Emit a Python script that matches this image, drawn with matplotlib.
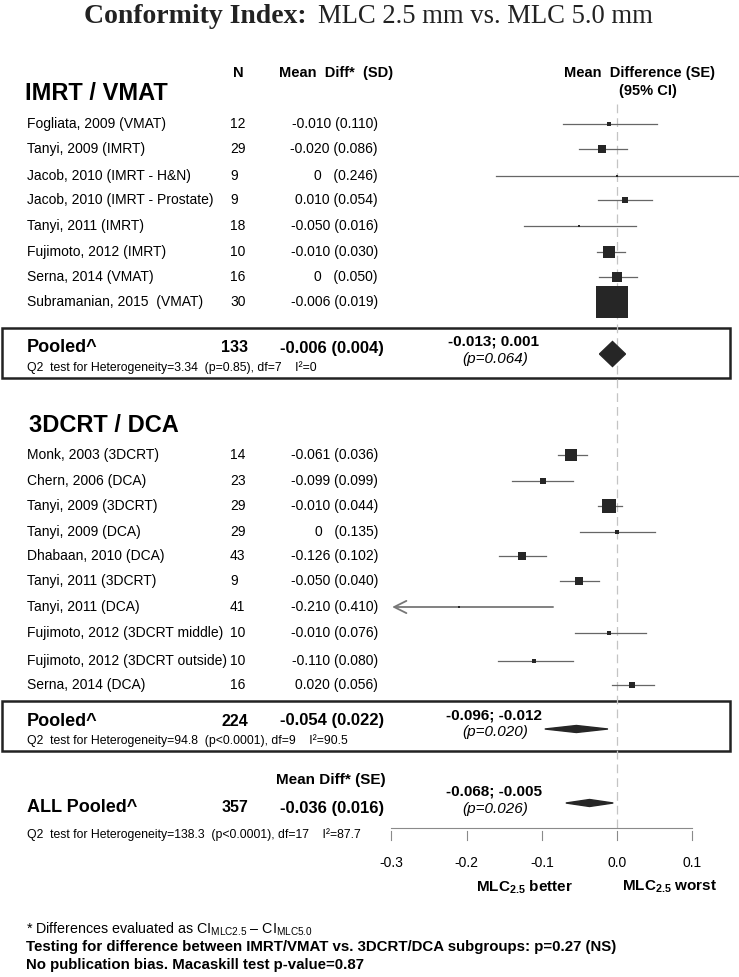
import numpy as np
import matplotlib
matplotlib.use("Agg")
import matplotlib.pyplot as plt
from matplotlib.patches import Rectangle, Polygon

plt.rcParams['font.family'] = ['Liberation Sans', 'DejaVu Sans']
plt.rcParams['mathtext.fontset'] = 'custom'
plt.rcParams['mathtext.rm'] = 'Liberation Sans'
plt.rcParams['mathtext.bf'] = 'Liberation Sans:bold'

# ---- data ----
imrt_labels = ["Fogliata, 2009 (VMAT)", "Tanyi, 2009 (IMRT)", "Jacob, 2010 (IMRT - H&N)",
               "Jacob, 2010 (IMRT - Prostate)", "Tanyi, 2011 (IMRT)", "Fujimoto, 2012 (IMRT)",
               "Serna, 2014 (VMAT)", "Subramanian, 2015  (VMAT)"]
imrt_n = [12, 29, 9, 9, 18, 10, 16, 30]
imrt_mean = [-0.010, -0.020, 0, 0.010, -0.050, -0.010, 0, -0.006]
imrt_sd = ["0.110", "0.086", "0.246", "0.054", "0.016", "0.030", "0.050", "0.019"]
imrt_lo = [-0.072, -0.051, -0.161, -0.025, -0.124, -0.027, -0.024, -0.013]
imrt_hi = [0.053, 0.013, 0.161, 0.047, 0.025, 0.011, 0.027, 0.001]
imrt_weight = [1.1, 3.8, 0.3, 3.3, 0.6, 9.8, 6.8, 74.2]

crt_labels = ["Monk, 2003 (3DCRT)", "Chern, 2006 (DCA)", "Tanyi, 2009 (3DCRT)", "Tanyi, 2009 (DCA)",
              "Dhabaan, 2010 (DCA)", "Tanyi, 2011 (3DCRT)", "Tanyi, 2011 (DCA)",
              "Fujimoto, 2012 (3DCRT middle)", "Fujimoto, 2012 (3DCRT outside)", "Serna, 2014 (DCA)"]
crt_n = [14, 23, 29, 29, 43, 9, 41, 10, 10, 16]
crt_mean = [-0.061, -0.099, -0.010, 0, -0.126, -0.050, -0.210, -0.010, -0.110, 0.020]
crt_sd = ["0.036", "0.099", "0.044", "0.135", "0.102", "0.040", "0.410", "0.076", "0.080", "0.056"]
crt_lo = [-0.078, -0.140, -0.025, -0.049, -0.157, -0.076, -0.335, -0.056, -0.158, -0.007]
crt_hi = [-0.040, -0.059, 0.007, 0.051, -0.094, -0.024, -0.085, 0.039, -0.059, 0.049]
crt_weight = [9.8, 2.5, 13.4, 1.7, 4.4, 5.5, 0.3, 1.7, 1.7, 2.5]

pooled_names = ["Pooled^", "Pooled^", "ALL Pooled^"]
pooled_n = [133, 224, 357]
pooled_mean = [-0.006, -0.054, -0.036]
pooled_se = ["0.004", "0.022", "0.016"]
pooled_lo = [-0.013, -0.096, -0.068]
pooled_hi = [0.001, -0.012, -0.005]
pooled_p = ["0.064", "0.020", "0.026"]
pooled_q = ["Q2  test for Heterogeneity=3.34  (p=0.85), df=7    I\u00b2=0",
            "Q2  test for Heterogeneity=94.8  (p<0.0001), df=9    I\u00b2=90.5",
            "Q2  test for Heterogeneity=138.3  (p<0.0001), df=17    I\u00b2=87.7"]

ticks = [-0.3, -0.2, -0.1, 0.0, 0.1]

# ---- layout (pixels) ----
W, H = 739, 977
x0_px = 617.0      # pixel of effect 0
px_per_unit = 752.0

fig = plt.figure(figsize=(W / 100, H / 100), dpi=100)
tx = fig.add_axes([0, 0, 1, 1])
tx.set_xlim(0, W)
tx.set_ylim(H, 0)
tx.axis('off')
ax = fig.add_axes([0, 0, 1, 1])
ax.set_xlim(-x0_px / px_per_unit, (W - x0_px) / px_per_unit)
ax.set_ylim(H, 0)
ax.axis('off')
ax.patch.set_alpha(0)

# title
tx.text(84, 23, "Conformity Index:", family=['Liberation Serif'], fontweight='bold',
        fontsize=20, va='baseline', ha='left', color='#222222')
tx.text(318, 23, "MLC 2.5 mm vs. MLC 5.0 mm", family=['Liberation Serif'], fontsize=19.2,
        va='baseline', ha='left', color='#222222')

# headers
tx.text(238, 73, "N", fontweight='bold', fontsize=10.5, ha='center', va='center')
tx.text(336, 73, "Mean  Diff*  (SD)", fontweight='bold', fontsize=10.5, ha='center', va='center')
tx.text(640, 73, "Mean  Difference (SE)", fontweight='bold', fontsize=10.5, ha='center', va='center')
tx.text(648, 91, "(95% CI)", fontweight='bold', fontsize=10.5, ha='center', va='center')
tx.text(25, 94, "IMRT / VMAT", fontweight='bold', fontsize=17, ha='left', va='center')
tx.text(29, 425, "3DCRT / DCA", fontweight='bold', fontsize=17, ha='left', va='center')

# reference line
ax.plot([0, 0], [104, 828], color='#c4c4c4', lw=0.9, ls=(0, (7, 4)), zorder=1)

mk_col = '#262626'
ln_col = '#666666'


def rows(labels, n, mean, sd, lo, hi, weight, ys):
    for i in range(len(labels)):
        y = ys[i]
        tx.text(27, y, labels[i], fontsize=10, ha='left', va='center')
        tx.text(230, y, str(n[i]), fontsize=10, ha='left', va='center')
        m = "0   " if mean[i] == 0 else "%.3f " % mean[i]
        tx.text(378, y, m + "(" + sd[i] + ")", fontsize=10, ha='right', va='center')
        lo_i = lo[i]
        if lo_i < -0.3:
            ax.annotate("", xy=(-0.299, y), xytext=(hi[i], y),
                        arrowprops=dict(arrowstyle='->', color='#777777', lw=1.3,
                                        mutation_scale=22, shrinkA=0, shrinkB=0))
        else:
            ax.plot([lo_i, hi[i]], [y, y], color=ln_col, lw=0.9, zorder=2)
        side = 3.83 * np.sqrt(weight[i])
        ax.scatter([mean[i]], [y], marker='s', s=(side * 0.72) ** 2, color=mk_col,
                   linewidths=0, zorder=3)


imrt_y = [124, 149, 176, 200, 226, 252, 277, 302]
crt_y = [455, 481, 506, 532, 556, 581, 607, 633, 661, 685]
rows(imrt_labels, imrt_n, imrt_mean, imrt_sd, imrt_lo, imrt_hi, imrt_weight, imrt_y)
rows(crt_labels, crt_n, crt_mean, crt_sd, crt_lo, crt_hi, crt_weight, crt_y)

# pooled rows
pool_y = [348, 721, 808]
ci_y = [342, 715, 792]
q_y = [368, 741, 835]
dia_y = [354, 729, 803]
dia_h = [12.5, 3.5, 3.5]
for k in range(3):
    y = pool_y[k]
    tx.text(27, y, pooled_names[k], fontweight='bold', fontsize=13, ha='left', va='center')
    tx.text(235, y, str(pooled_n[k]), fontweight='bold', fontsize=11.5, ha='center', va='center')
    tx.text(332, y, "%.3f (%s)" % (pooled_mean[k], pooled_se[k]), fontweight='bold',
            fontsize=12, ha='center', va='center')
    tx.text(494, ci_y[k], "%.3f; %.3f" % (pooled_lo[k], pooled_hi[k]), fontweight='bold',
            fontsize=11, ha='center', va='center')
    tx.text(495, ci_y[k] + 17, "(p=%s)" % pooled_p[k], style='italic', fontsize=11,
            ha='center', va='center')
    tx.text(27, q_y[k], pooled_q[k], fontsize=8.8, ha='left', va='center')
    half = max((pooled_hi[k] - pooled_lo[k]) / 2, 0.0173)
    c = (pooled_lo[k] + pooled_hi[k]) / 2
    yy = dia_y[k]
    h = dia_h[k]
    ax.add_patch(Polygon([[c - half, yy], [c, yy - h], [c + half, yy], [c, yy + h]],
                         closed=True, color=mk_col, zorder=3))

tx.text(331, 780, "Mean Diff* (SE)", fontweight='bold', fontsize=11, ha='center', va='center')

tx.add_patch(Rectangle((2, 328), 728, 50, fill=False, ec='#222222', lw=1.8))
tx.add_patch(Rectangle((2, 701), 728, 50, fill=False, ec='#222222', lw=1.8))

# x axis
ax.plot([ticks[0], ticks[-1]], [828, 828], color='#8a8a8a', lw=0.8)
for t in ticks:
    ax.plot([t, t], [831, 840], color='#8a8a8a', lw=0.8)
    ax.text(t, 863, "%.1f" % t, fontsize=10, ha='center', va='center')
tx.text(524, 887, r"MLC$_{\mathbf{2.5}}$ better", fontweight='bold', fontsize=11,
        ha='center', va='center')
tx.text(670, 887, r"MLC$_{\mathbf{2.5}}$ worst", fontweight='bold', fontsize=11,
        ha='center', va='center')

# footnotes
tx.text(26, 929, "* Differences evaluated as CI$_{\\rm MLC2.5}$ \u2013 CI$_{\\rm MLC5.0}$",
        fontsize=10.3, ha='left', va='center')
tx.text(26, 947, "Testing for difference between IMRT/VMAT vs. 3DCRT/DCA subgroups: p=0.27 (NS)",
        fontweight='bold', fontsize=10.8, ha='left', va='center')
tx.text(26, 965, "No publication bias. Macaskill test p-value=0.87",
        fontweight='bold', fontsize=10.8, ha='left', va='center')

fig.savefig("out.png", dpi=100)
